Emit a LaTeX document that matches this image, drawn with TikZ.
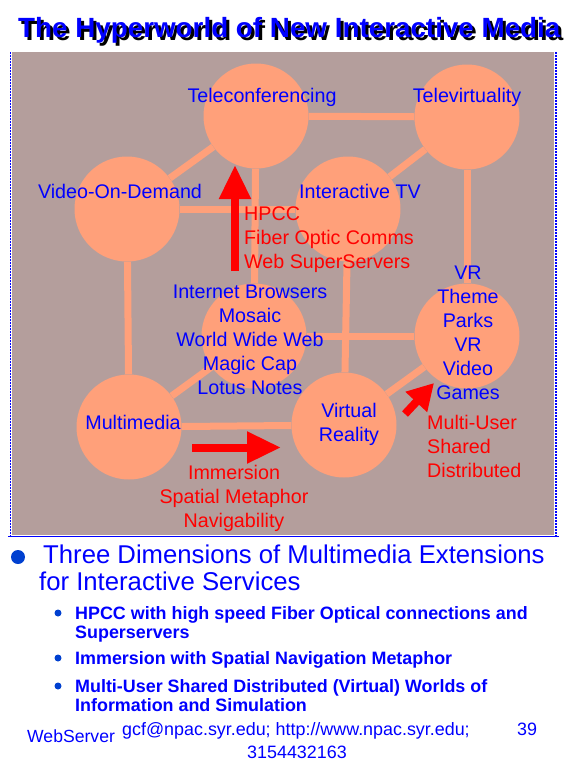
\documentclass[tikz,border=0pt]{standalone}
\usepackage{fontspec}
\setmainfont{Liberation Sans}
\usetikzlibrary{arrows.meta}
\definecolor{panelgray}{RGB}{180,158,156}
\definecolor{circfill}{RGB}{255,160,122}
\definecolor{tblue}{RGB}{0,0,255}
\definecolor{tred}{RGB}{255,0,0}
\definecolor{dotblue}{RGB}{0,64,208}
\newcommand\mystack[2][c]{\begin{tabular}[t]{@{}#1@{}}#2\end{tabular}}
\begin{document}
\begin{tikzpicture}[x=1pt,y=-1pt,
  ball/.style={circle,fill=circfill,minimum size=105pt,inner sep=0pt},
  link/.style={draw=circfill,line width=7pt},
  lbl/.style={text=tblue,font=\fontsize{19.7}{24}\selectfont,inner sep=0pt,anchor=base},
  rlbl/.style={text=tred,font=\fontsize{19.7}{24}\selectfont,inner sep=0pt},
  bigarrow/.style={draw=tred,line width=8pt,-{Triangle[width=30pt,length=34pt]}},
  titlefont/.style={font=\fontsize{27.8}{30}\selectfont\bfseries,inner sep=0pt,anchor=base west},
  subfont/.style={font=\fontsize{17.9}{19.5}\selectfont\bfseries,text=tblue,inner sep=0pt,anchor=base west},
  mainfont/.style={font=\fontsize{25.7}{27}\selectfont,text=tblue,inner sep=0pt,anchor=base west},
  footfont/.style={font=\fontsize{17.9}{22}\selectfont,text=tblue,inner sep=0pt},
  bigdot/.style={circle,fill=dotblue,minimum size=14pt,inner sep=0pt},
  smalldot/.style={circle,fill=dotblue,minimum size=7pt,inner sep=0pt},
]
\useasboundingbox (0,0) rectangle (572,763);
% panel
\fill[panelgray] (12,52) rectangle (554,535);
\draw[tblue,line width=1.2pt,dash pattern=on 1.5pt off 1.5pt] (10.5,52) -- (10.5,536);
\draw[tblue,line width=1.2pt,dash pattern=on 1.5pt off 1.5pt] (556,52) -- (556,536);
\draw[tblue,line width=1.5pt] (8,536.5) -- (559,536.5);
% title
\node[titlefont,text=black] (titleshadow) at (21,40) {The Hyperworld of New Interactive Media};
\node[titlefont,text=tblue] (title) at (18,37) {The Hyperworld of New Interactive Media};
% circles
\node[ball] (tele) at (256,116) {};
\node[ball] (tvirt) at (467,117) {};
\node[ball] (vod) at (127,209) {};
\node[ball] (itv) at (348,209) {};
\node[ball] (inet) at (254,336) {};
\node[ball] (vrtp) at (467,336) {};
\node[ball] (mm) at (129,427) {};
\node[ball] (vr) at (344,425) {};
% cube edges
\draw[link] (tele) -- (tvirt);
\draw[link] (tele) -- (vod);
\draw[link] (tvirt) -- (itv);
\draw[link] (vod) -- (itv);
\draw[link] (tele) -- (inet);
\draw[link] (vod) -- (mm);
\draw[link] (tvirt) -- (vrtp);
\draw[link] (itv) -- (vr);
\draw[link] (inet) -- (vrtp);
\draw[link] (inet) -- (mm);
\draw[link] (mm) -- (vr);
\draw[link] (vr) -- (vrtp);
% red arrows
\coordinate (hpccfrom) at (235,271);
\coordinate (hpccto) at (235,165);
\draw[bigarrow] (hpccfrom) -- (hpccto);
\coordinate (immfrom) at (192,447.5);
\coordinate (immto) at (281,447.5);
\draw[bigarrow] (immfrom) -- (immto);
\coordinate (mufrom) at (405,414);
\coordinate (muto) at (434,383);
\draw[bigarrow,-{Triangle[width=28pt,length=26pt]}] (mufrom) -- (muto);
% labels
\node[lbl] (telel) at (262,102) {Teleconferencing};
\node[lbl] (tvirtl) at (467,102) {Televirtuality};
\node[lbl] (vodl) at (120,198) {Video-On-Demand};
\node[lbl] (itvl) at (360,198) {Interactive TV};
\node[rlbl,anchor=base west] (hpccl) at (244,220) {\mystack[l]{HPCC\\Fiber Optic Comms\\Web SuperServers}};
\node[lbl] (inetl) at (250,298) {\mystack{Internet Browsers\\Mosaic\\World Wide Web\\Magic Cap\\Lotus Notes}};
\node[lbl] (vrtpl) at (468,279) {\mystack{VR\\Theme\\Parks\\VR\\Video\\Games}};
\node[lbl] (mml) at (133,429) {Multimedia};
\node[lbl] (vrl) at (349,417) {\mystack{Virtual\\Reality}};
\node[rlbl,anchor=base west] (mul) at (427,429) {\mystack[l]{Multi-User\\Shared\\Distributed}};
\node[rlbl,anchor=base] (imml) at (234,479) {\mystack{Immersion\\Spatial Metaphor\\Navigability}};
% bullets
\node[bigdot] (b0) at (18,557) {};
\node[mainfont] (b0a) at (43,563) {Three Dimensions of Multimedia Extensions};
\node[mainfont] (b0b) at (39,590) {for Interactive Services};
\node[smalldot] (b1) at (58,613) {};
\node[subfont] (b1t) at (75,619) {\mystack[l]{HPCC with high speed Fiber Optical connections and\\Superservers}};
\node[smalldot] (b2) at (58,658) {};
\node[subfont] (b2t) at (75,664) {Immersion with Spatial Navigation Metaphor};
\node[smalldot] (b3) at (58,686) {};
\node[subfont] (b3t) at (75,692) {\mystack[l]{Multi-User Shared Distributed (Virtual) Worlds of\\Information and Simulation}};
% footer
\node[footfont,anchor=base west,font=\fontsize{17.6}{22}\selectfont] (ws) at (27,742) {WebServer};
\node[footfont,anchor=base west] (addr) at (122,735) {gcf@npac.syr.edu; http://www.npac.syr.edu;};
\node[footfont,anchor=base] (phone) at (297,758) {3154432163};
\node[footfont,anchor=base west] (pg) at (517,735) {39};
\end{tikzpicture}
\end{document}
